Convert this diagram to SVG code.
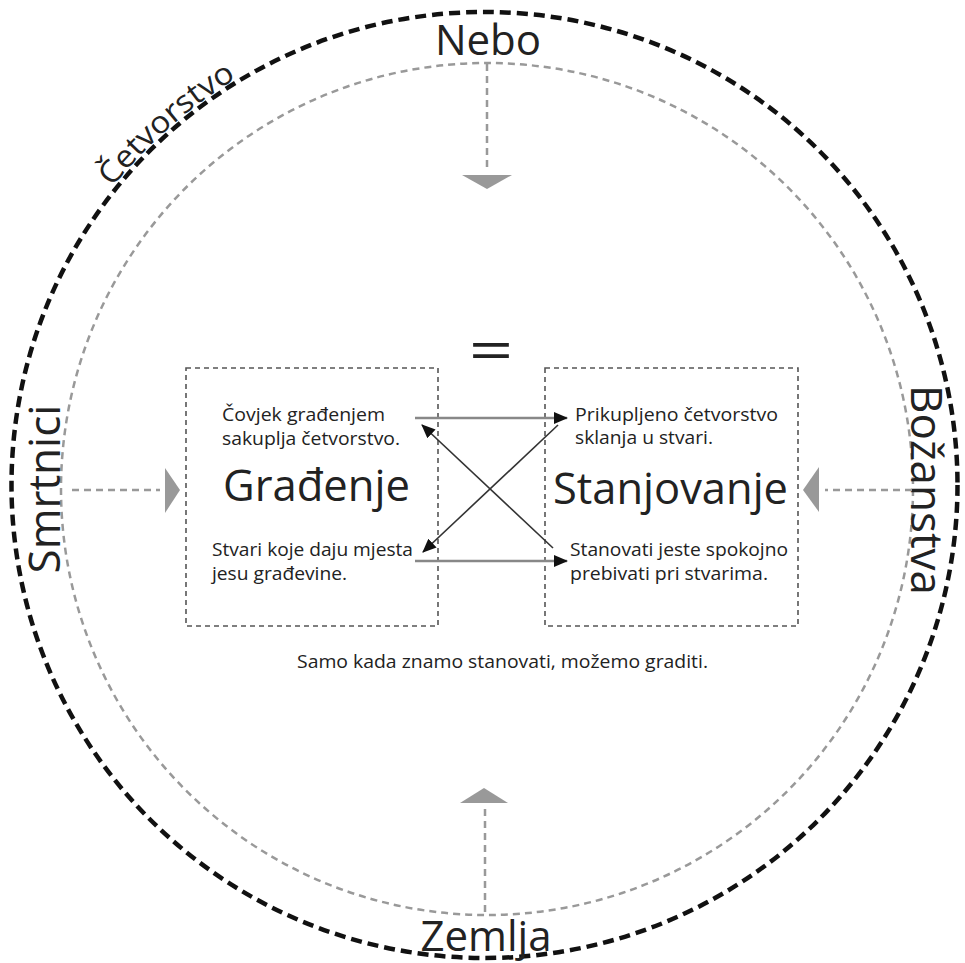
<svg xmlns="http://www.w3.org/2000/svg" width="965" height="963" viewBox="0 0 965 963">
<style>
.lbl{font-family:"Open Sans","Noto Sans","Liberation Sans",sans-serif;fill:#222}
.big{font-size:42px}
.mid{font-size:44px}
.sm{font-size:18px}
.box{fill:none;stroke:#555;stroke-width:1.6;stroke-dasharray:5 4}
.gd{stroke:#999;stroke-width:2.5;stroke-dasharray:7 5;fill:none}
.tri{fill:#999}
.harr{stroke:#888;stroke-width:2.5;fill:none}
.darr{stroke:#333;stroke-width:1.6;fill:none}
</style>
<defs>
<marker id="ah" viewBox="0 0 14 12" refX="13" refY="6" markerWidth="14" markerHeight="12" markerUnits="userSpaceOnUse" orient="auto">
<path d="M0,0 L14,6 L0,12 z" fill="#111"/>
</marker>
<path id="arcT" d="M53.2,282.2 A476,476 0 0 1 443,10.8" fill="none"/>
</defs>
<rect width="965" height="963" fill="#fff"/>
<g id="circles">
<circle cx="484.5" cy="485" r="473" fill="none" stroke="#111" stroke-width="4.5" stroke-dasharray="11 6"/>
<circle cx="487" cy="489" r="426" class="gd"/>
</g>
<g id="cetvorstvo">
<text class="lbl" font-size="31"><textPath href="#arcT" startOffset="112" textLength="166" lengthAdjust="spacingAndGlyphs">Četvorstvo</textPath></text>
</g>
<g id="nebo">
<text class="lbl big" x="488" y="55" text-anchor="middle">Nebo</text>
</g>
<g id="zemlja">
<text class="lbl big" x="486" y="951" text-anchor="middle">Zemlja</text>
</g>
<g id="smrtnici">
<text class="lbl mid" transform="translate(60,489) rotate(-90)" text-anchor="middle">Smrtnici</text>
</g>
<g id="bozanstva">
<text class="lbl mid" transform="translate(911,490) rotate(90)" text-anchor="middle">Božanstva</text>
</g>
<g id="equals">
<text class="lbl" transform="translate(491,369.5) scale(1,0.72)" font-size="78" text-anchor="middle">=</text>
</g>
<g id="gradjenje">
<rect class="box" x="186" y="368" width="252" height="258"/>
<text class="lbl sm" x="222" y="421" textLength="163" lengthAdjust="spacingAndGlyphs">Čovjek građenjem</text>
<text class="lbl sm" x="222" y="445" textLength="178" lengthAdjust="spacingAndGlyphs">sakuplja četvorstvo.</text>
<text class="lbl mid" x="223" y="501" textLength="187" lengthAdjust="spacingAndGlyphs">Građenje</text>
<text class="lbl sm" x="212" y="556" textLength="201" lengthAdjust="spacingAndGlyphs">Stvari koje daju mjesta</text>
<text class="lbl sm" x="212" y="580" textLength="135" lengthAdjust="spacingAndGlyphs">jesu građevine.</text>
</g>
<g id="stanjovanje">
<rect class="box" x="545" y="368" width="253" height="258"/>
<text class="lbl sm" x="575" y="421" textLength="203" lengthAdjust="spacingAndGlyphs">Prikupljeno četvorstvo</text>
<text class="lbl sm" x="575" y="444" textLength="138" lengthAdjust="spacingAndGlyphs">sklanja u stvari.</text>
<text class="lbl mid" x="553" y="504" textLength="235" lengthAdjust="spacingAndGlyphs">Stanjovanje</text>
<text class="lbl sm" x="570" y="556" textLength="218" lengthAdjust="spacingAndGlyphs">Stanovati jeste spokojno</text>
<text class="lbl sm" x="570" y="580" textLength="198" lengthAdjust="spacingAndGlyphs">prebivati pri stvarima.</text>
</g>
<g id="caption">
<text class="lbl" font-size="17.5" x="297" y="668" textLength="411" lengthAdjust="spacingAndGlyphs">Samo kada znamo stanovati, možemo graditi.</text>
</g>
<g id="connectors">
<line class="gd" x1="487" y1="64" x2="487" y2="172"/>
<polygon class="tri" points="462,175 512,175 487,189"/>
<line class="gd" x1="485" y1="912" x2="485" y2="808"/>
<polygon class="tri" points="460,803 508,803 484,788"/>
<line class="gd" x1="72" y1="490" x2="160" y2="490"/>
<polygon class="tri" points="165,468 165,513 180,490"/>
<line class="gd" x1="912" y1="490" x2="825" y2="490"/>
<polygon class="tri" points="819,467 819,512 803,490"/>
<line class="harr" x1="415" y1="418" x2="567" y2="418" marker-end="url(#ah)"/>
<line class="harr" x1="415" y1="561" x2="567" y2="561" marker-end="url(#ah)"/>
<line class="darr" x1="558" y1="425" x2="423" y2="552" marker-end="url(#ah)"/>
<line class="darr" x1="553" y1="548" x2="422" y2="425" marker-end="url(#ah)"/>
</g>
</svg>
